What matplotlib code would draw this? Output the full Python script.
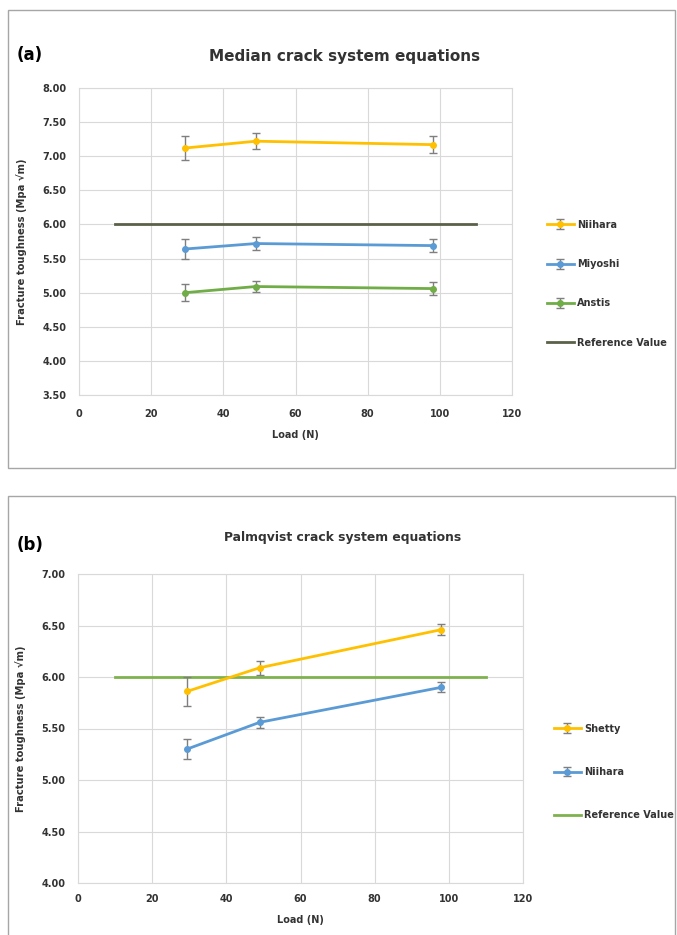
import matplotlib.pyplot as plt
from matplotlib.patches import Rectangle

plt.rcParams['font.family'] = ['DejaVu Sans']

# panel (a) - median crack system
load = [29.4, 49, 98]
niihara_a = [7.12, 7.22, 7.17]
niihara_a_err = [0.18, 0.12, 0.12]
miyoshi = [5.64, 5.72, 5.69]
miyoshi_err = [0.14, 0.10, 0.10]
anstis = [5.00, 5.09, 5.06]
anstis_err = [0.12, 0.08, 0.09]

# panel (b) - palmqvist crack system
shetty = [5.86, 6.09, 6.46]
shetty_err = [0.14, 0.07, 0.05]
niihara_b = [5.30, 5.56, 5.90]
niihara_b_err = [0.10, 0.055, 0.05]

ref_x = [10, 110]
ref_val = [6.0, 6.0]

W, H = 677, 935
fig = plt.figure(figsize=(W / 100, H / 100), dpi=100)

# panel frames
fig.patches.append(Rectangle((8 / W, 1 - 468 / H), 667 / W, 458 / H, transform=fig.transFigure,
                             fill=False, edgecolor='#a6a6a6', lw=1))
fig.patches.append(Rectangle((8 / W, -0.01), 667 / W, 1 - 496 / H + 0.01, transform=fig.transFigure,
                             fill=False, edgecolor='#a6a6a6', lw=1))

ORANGE = '#FFC000'
BLUE = '#5B9BD5'
GREEN = '#70AD47'
ERR = '#7f7f7f'
TXT = '#333333'


def style(ax, ymin, ymax, ystep, xpad):
    ax.set_xlim(0, 120)
    ax.set_ylim(ymin, ymax)
    ax.set_xticks(range(0, 121, 20))
    n = int(round((ymax - ymin) / ystep)) + 1
    yt = [ymin + ystep * i for i in range(n)]
    ax.set_yticks(yt)
    ax.set_yticklabels([f'{v:.2f}' for v in yt])
    ax.grid(True, color='#d9d9d9', lw=0.8)
    ax.set_axisbelow(True)
    for s in ax.spines.values():
        s.set_color('#d9d9d9')
    ax.tick_params(length=0, labelsize=7, labelcolor=TXT)
    ax.tick_params(axis='y', pad=9)
    ax.tick_params(axis='x', pad=xpad)
    for lab in ax.get_xticklabels() + ax.get_yticklabels():
        lab.set_fontweight('bold')
    ax.set_xlabel('Load (N)', fontsize=7, fontweight='bold', color=TXT, labelpad=8)
    ax.set_ylabel('Fracture toughness (Mpa √m)', fontsize=7.2, fontweight='bold', color=TXT, labelpad=11)


def series(ax, y, err, color, label):
    ax.errorbar(load, y, yerr=err, color=color, lw=2, marker='o', ms=4,
                ecolor=ERR, elinewidth=1, capsize=3, capthick=1, label=label, zorder=3)


def legend(ax, order, x, y, spacing):
    h, l = ax.get_legend_handles_labels()
    ax.legend([h[i] for i in order], [l[i] for i in order], loc='upper left',
              bbox_to_anchor=(x / W, 1 - y / H), bbox_transform=fig.transFigure,
              frameon=False, labelspacing=spacing, handlelength=2.8, handletextpad=0.3,
              prop={'size': 7, 'weight': 'bold'}, labelcolor=TXT)


# (a)
ax1 = fig.add_axes([79 / W, 1 - 395 / H, 433 / W, 307 / H])
ax1.plot(ref_x, ref_val, color='#5a6148', lw=2, label='Reference Value', zorder=2)
series(ax1, niihara_a, niihara_a_err, ORANGE, 'Niihara')
series(ax1, miyoshi, miyoshi_err, BLUE, 'Miyoshi')
series(ax1, anstis, anstis_err, GREEN, 'Anstis')
style(ax1, 3.5, 8.0, 0.5, 10)
legend(ax1, [1, 2, 3, 0], 538, 211, 3.02)
fig.text(345 / W, 1 - 56 / H, 'Median crack system equations', ha='center', va='center',
         fontsize=11, fontweight='bold', color=TXT)
fig.text(17 / W, 1 - 55 / H, '(a)', ha='left', va='center', fontsize=12, fontweight='bold')

# (b)
ax2 = fig.add_axes([78 / W, 1 - 883 / H, 445 / W, 309 / H])
ax2.plot(ref_x, ref_val, color='#7fb24e', lw=2, label='Reference Value', zorder=2)
series(ax2, shetty, shetty_err, ORANGE, 'Shetty')
series(ax2, niihara_b, niihara_b_err, BLUE, 'Niihara')
style(ax2, 4.0, 7.0, 0.5, 8)
legend(ax2, [1, 2, 0], 545, 715, 3.42)
fig.text(343 / W, 1 - 537 / H, 'Palmqvist crack system equations', ha='center', va='center',
         fontsize=8.9, fontweight='bold', color=TXT)
fig.text(17 / W, 1 - 545 / H, '(b)', ha='left', va='center', fontsize=12, fontweight='bold')

fig.savefig('out.png', dpi=100)
